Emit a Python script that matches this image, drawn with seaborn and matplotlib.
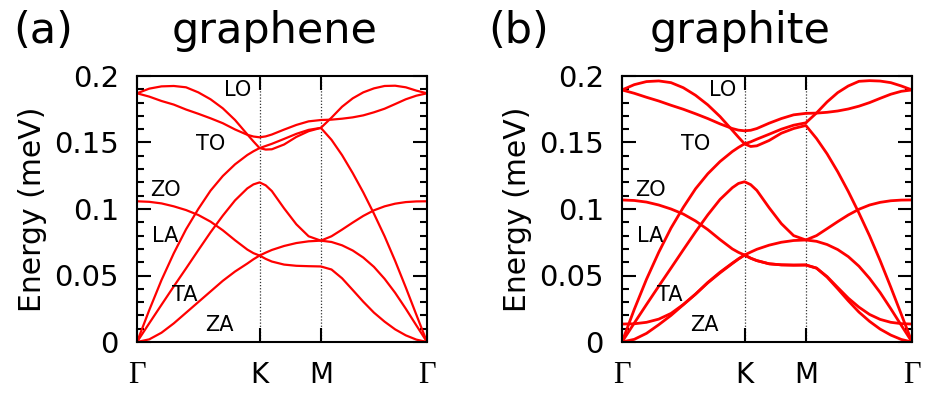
import matplotlib
matplotlib.use("Agg")
import matplotlib.pyplot as plt
from matplotlib.ticker import MultipleLocator
import seaborn as sns
import pandas as pd

# ---------------- data ----------------
# k-path coordinate (Gamma-K = 1)
k_path = [0.0, 0.1, 0.2, 0.3, 0.4, 0.5, 0.6, 0.7, 0.8, 0.9, 0.95, 1.0,
          1.05, 1.1, 1.2, 1.3, 1.4, 1.5,
          1.587, 1.673, 1.760, 1.846, 1.933, 2.020, 2.106, 2.193, 2.279, 2.366]
sym_pos = [0.0, 1.0, 1.5, 2.366]
sym_labels = ["Γ", "K", "M", "Γ"]

# graphene bands (energy)
gr_ZA = [0, 0.002, 0.007, 0.014, 0.022, 0.030, 0.038, 0.046, 0.053, 0.059, 0.0622, 0.065,
         0.0625, 0.0605, 0.0582, 0.0573, 0.057, 0.0568,
         0.0545, 0.0479, 0.0391, 0.0303, 0.0221, 0.0153, 0.0095, 0.005, 0.0018, 0]
gr_ZO = [0.1058, 0.1054, 0.1042, 0.102, 0.0992, 0.0955, 0.0905, 0.084, 0.0765, 0.0695, 0.0668, 0.065,
         0.0672, 0.0692, 0.0722, 0.0744, 0.0757, 0.0762,
         0.0795, 0.0845, 0.0898, 0.0948, 0.099, 0.102, 0.104, 0.1052, 0.1057, 0.1058]
gr_TA = [0, 0.0141, 0.028, 0.0418, 0.0553, 0.069, 0.0825, 0.095, 0.1065, 0.1155, 0.1185, 0.120,
         0.1178, 0.1135, 0.1005, 0.0885, 0.0795, 0.0762,
         0.0752, 0.0727, 0.0688, 0.0635, 0.0565, 0.0475, 0.037, 0.025, 0.0125, 0]
gr_LA = [0, 0.024, 0.0466, 0.0667, 0.0847, 0.1, 0.1138, 0.1248, 0.1336, 0.1406, 0.1434, 0.1458,
         0.1447, 0.1449, 0.1485, 0.1542, 0.1585, 0.161,
         0.152, 0.1405, 0.127, 0.1125, 0.0965, 0.0795, 0.061, 0.041, 0.0205, 0]
gr_TO = [0.187, 0.1845, 0.1812, 0.1785, 0.1748, 0.1716, 0.1682, 0.1645, 0.1598, 0.1558, 0.1545, 0.1539,
         0.1546, 0.156, 0.1597, 0.1632, 0.1659, 0.1669,
         0.1672, 0.1679, 0.1689, 0.1704, 0.1727, 0.1754, 0.1789, 0.1825, 0.1852, 0.187]
gr_LO = [0.187, 0.1905, 0.1922, 0.1925, 0.1915, 0.1877, 0.1825, 0.1757, 0.1669, 0.1561, 0.1508, 0.1458,
         0.1474, 0.149, 0.1527, 0.1565, 0.1595, 0.161,
         0.1687, 0.1769, 0.1832, 0.1877, 0.1907, 0.1925, 0.1927, 0.1915, 0.189, 0.187]

# graphite bands (energy)
gt_ZA = [0, 0.002, 0.0065, 0.013, 0.020, 0.028, 0.036, 0.0445, 0.052, 0.059, 0.0624, 0.0654,
         0.063, 0.0612, 0.0588, 0.058, 0.0578, 0.0579,
         0.0555, 0.0488, 0.040, 0.031, 0.0225, 0.0155, 0.0097, 0.0052, 0.0019, 0]
gt_ZOp = [0.0135, 0.0137, 0.0148, 0.0172, 0.0215, 0.0282, 0.036, 0.0448, 0.0525, 0.0593, 0.0625, 0.0654,
          0.063, 0.0612, 0.0588, 0.058, 0.0578, 0.0579,
          0.0556, 0.0492, 0.041, 0.033, 0.0262, 0.0207, 0.017, 0.0148, 0.0138, 0.0135]
gt_ZO = [0.1068, 0.1064, 0.1052, 0.103, 0.1, 0.0962, 0.091, 0.0845, 0.077, 0.07, 0.0674, 0.0654,
         0.0676, 0.0697, 0.0728, 0.075, 0.0763, 0.0767,
         0.08, 0.0852, 0.0905, 0.0955, 0.0998, 0.103, 0.105, 0.1062, 0.1067, 0.1068]
gt_TA = [0, 0.0142, 0.0282, 0.042, 0.0556, 0.0693, 0.0828, 0.0956, 0.1072, 0.116, 0.1192, 0.1205,
         0.1183, 0.114, 0.101, 0.089, 0.08, 0.0767,
         0.0757, 0.0733, 0.0695, 0.0642, 0.057, 0.0478, 0.0372, 0.025, 0.0125, 0]
gt_LA = [0, 0.0245, 0.0472, 0.0675, 0.0857, 0.1012, 0.1152, 0.1265, 0.1357, 0.1432, 0.1463, 0.149,
         0.147, 0.1475, 0.1515, 0.157, 0.1605, 0.1628,
         0.153, 0.1415, 0.128, 0.1132, 0.097, 0.0798, 0.0612, 0.0412, 0.0207, 0]
gt_TO = [0.1895, 0.187, 0.184, 0.1812, 0.178, 0.175, 0.1716, 0.168, 0.164, 0.1605, 0.1593, 0.1588,
         0.1592, 0.1605, 0.1645, 0.168, 0.1708, 0.1719,
         0.1721, 0.1727, 0.1737, 0.1752, 0.1773, 0.18, 0.1832, 0.1863, 0.1885, 0.1895]
gt_LO = [0.1895, 0.1935, 0.1958, 0.1963, 0.195, 0.1912, 0.1855, 0.1783, 0.1695, 0.1592, 0.154, 0.149,
         0.1505, 0.1525, 0.1562, 0.16, 0.163, 0.1648,
         0.1722, 0.1805, 0.1875, 0.1925, 0.196, 0.1965, 0.1962, 0.195, 0.1925, 0.1895]

mode_labels = ["LO", "TO", "ZO", "LA", "TA", "ZA"]
mode_label_k = [0.824, 0.604, 0.228, 0.228, 0.392, 0.669]
mode_label_E = [0.1895, 0.1492, 0.1143, 0.0797, 0.0353, 0.0128]

y_ticks = [0, 0.05, 0.1, 0.15, 0.2]
y_ticklabels = ["0", "0.05", "0.1", "0.15", "0.2"]

panels = [
    ("(a)", "graphene", {"ZA": gr_ZA, "ZO": gr_ZO, "TA": gr_TA, "LA": gr_LA, "TO": gr_TO, "LO": gr_LO}),
    ("(b)", "graphite", {"ZA": gt_ZA, "ZO'": gt_ZOp, "ZO": gt_ZO, "TA": gt_TA, "LA": gt_LA,
                         "TO": gt_TO, "LO": gt_LO}),
]

# ---------------- plot ----------------
sns.set_style("ticks")
plt.rcParams["font.family"] = ["DejaVu Sans"]
for key in ["text.color", "axes.labelcolor", "xtick.color", "ytick.color", "axes.edgecolor"]:
    plt.rcParams[key] = "black"

W, H = 925, 394
fig = plt.figure(figsize=(W / 100, H / 100), dpi=100)

lefts_px = [137, 622]
lws = [1.6, 2.0]
tag_x_px = [13, 488]
title_x_px = [275, 740]

for i, (tag, title, bands) in enumerate(panels):
    ax = fig.add_axes([lefts_px[i] / W, (H - 342) / H, 290 / W, 266 / H])
    rows = []
    for name, vals in bands.items():
        for k, e in zip(k_path, vals):
            rows.append({"k": k, "E": e, "band": name})
    df = pd.DataFrame(rows)
    sns.lineplot(data=df, x="k", y="E", units="band", estimator=None,
                 color="#ff0000", lw=lws[i], ax=ax, legend=False)

    for xp in sym_pos[1:3]:
        ax.axvline(xp, color="#333333", ls=(0, (1, 1.5)), lw=0.9, zorder=0)

    ax.set_xlim(0, sym_pos[-1])
    ax.set_ylim(0, 0.2)
    ax.set_xticks(sym_pos)
    ax.set_xticklabels(sym_labels)
    for lbl in ax.get_xticklabels():
        if lbl.get_text() == "Γ":
            lbl.set_fontfamily("Liberation Serif")
            lbl.set_fontsize(22)
        else:
            lbl.set_fontsize(20)
    ax.set_yticks(y_ticks)
    ax.set_yticklabels(y_ticklabels, fontsize=21)
    ax.yaxis.set_minor_locator(MultipleLocator(0.01))
    ax.tick_params(which="both", direction="in", top=True, right=True, width=1.5, color="black")
    ax.tick_params(which="major", length=10)
    ax.tick_params(which="minor", length=5)
    ax.tick_params(axis="x", which="minor", top=False, bottom=False)
    ax.tick_params(axis="y", pad=13)
    ax.tick_params(axis="x", pad=14)
    for sp in ax.spines.values():
        sp.set_linewidth(1.5)
        sp.set_color("black")
        sp.set_visible(True)
    ax.set_xlabel("")
    ax.set_ylabel("Energy (meV)", fontsize=21.5, color="black")
    ax.yaxis.set_label_coords(-0.31, 0.5)

    for lab, kx, ey in zip(mode_labels, mode_label_k, mode_label_E):
        ax.text(kx, ey, lab, fontsize=15, ha="center", va="center", color="black")

    fig.text(tag_x_px[i] / W, 1 - 43 / H, tag, fontsize=31, ha="left", va="baseline", color="black")
    fig.text(title_x_px[i] / W, 1 - 43 / H, title, fontsize=31, ha="center", va="baseline", color="black")

fig.savefig("out.png", dpi=100)
